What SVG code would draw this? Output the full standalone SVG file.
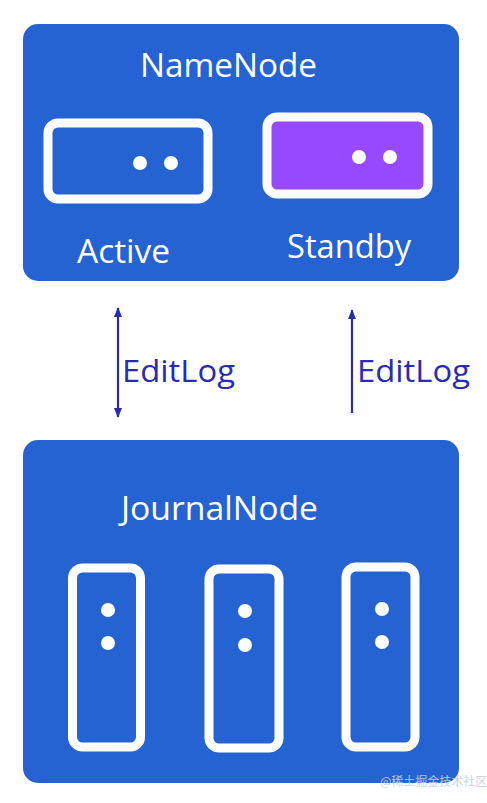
<svg xmlns="http://www.w3.org/2000/svg" width="487" height="803" viewBox="0 0 487 803">
<defs>
<style>
.panel{fill:#2563d3;}
.box{fill:none;stroke:#ffffff;stroke-width:9;}
.dot{fill:#ffffff;}
.lbl{font-family:"Open Sans","Liberation Sans",sans-serif;fill:#ffffff;}
.edge{stroke:#2a2ab3;stroke-width:2.2;fill:none;}
.elbl{font-family:"Open Sans","Liberation Sans",sans-serif;fill:#2a2ab8;font-size:31px;}
</style>
<marker id="ah" viewBox="0 0 10 8" refX="9" refY="4" markerWidth="10" markerHeight="8" orient="auto-start-reverse" markerUnits="userSpaceOnUse">
<path d="M0,0 L10,4 L0,8 z" fill="#2a2ab3"/>
</marker>
</defs>
<rect width="487" height="803" fill="#ffffff"/>
<g id="namenode">
<rect class="panel" x="23" y="24" width="436" height="257" rx="15"/>
<text class="lbl" x="140" y="77" font-size="33" textLength="177" lengthAdjust="spacingAndGlyphs">NameNode</text>
</g>
<g id="active">
<rect x="48" y="123" width="160" height="76" rx="10" fill="#2563d3" stroke="#ffffff" stroke-width="9"/>
<circle class="dot" cx="140" cy="163" r="7"/>
<circle class="dot" cx="171" cy="163" r="7"/>
<text class="lbl" x="77" y="263" font-size="33" textLength="93" lengthAdjust="spacingAndGlyphs">Active</text>
</g>
<g id="standby">
<rect x="267" y="117" width="161" height="77" rx="10" fill="#9749ff" stroke="#ffffff" stroke-width="9"/>
<circle class="dot" cx="359" cy="157" r="7"/>
<circle class="dot" cx="390" cy="157" r="7"/>
<text class="lbl" x="287" y="258" font-size="33" textLength="124" lengthAdjust="spacingAndGlyphs">Standby</text>
</g>
<g id="connectors">
<line class="edge" x1="118" y1="308" x2="118" y2="417" marker-start="url(#ah)" marker-end="url(#ah)"/>
<line class="edge" x1="352" y1="310" x2="352" y2="413" marker-start="url(#ah)"/>
<text class="elbl" x="122" y="382" textLength="113" lengthAdjust="spacingAndGlyphs">EditLog</text>
<text class="elbl" x="357" y="382" textLength="113" lengthAdjust="spacingAndGlyphs">EditLog</text>
</g>
<g id="journalnode">
<rect class="panel" x="23" y="440" width="436" height="343" rx="15"/>
<text class="lbl" x="121" y="520" font-size="33" textLength="197" lengthAdjust="spacingAndGlyphs">JournalNode</text>
</g>
<g id="jn1">
<rect class="box" x="72.5" y="568" width="68" height="179" rx="10"/>
<circle class="dot" cx="108" cy="610" r="7"/>
<circle class="dot" cx="108" cy="643" r="7"/>
</g>
<g id="jn2">
<rect class="box" x="209" y="569" width="70" height="179" rx="10"/>
<circle class="dot" cx="245" cy="611" r="7"/>
<circle class="dot" cx="245" cy="645" r="7"/>
</g>
<g id="jn3">
<rect class="box" x="346" y="567" width="69" height="180" rx="10"/>
<circle class="dot" cx="382" cy="609" r="7"/>
<circle class="dot" cx="382" cy="642" r="7"/>
</g>
<text x="380" y="786" font-family="'Noto Sans CJK SC',sans-serif" font-size="12" fill="#c8cfe0" opacity="0.9">@稀土掘金技术社区</text>
</svg>
